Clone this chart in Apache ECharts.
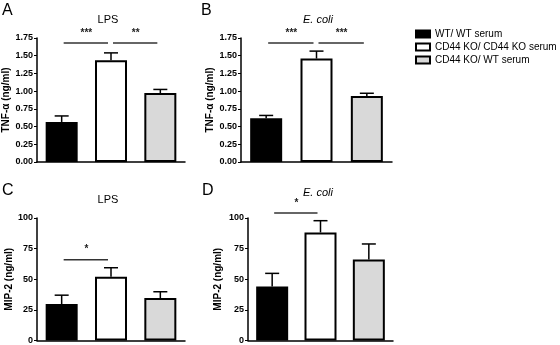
<!DOCTYPE html>
<html>
<head>
<meta charset="utf-8">
<script src="https://cdn.jsdelivr.net/npm/echarts@6/dist/echarts.min.js"></script>
<style>
  html, body { margin: 0; padding: 0; background: #fff; }
  #chart { width: 560px; height: 345px; }
</style>
</head>
<body>
<div id="chart"></div>
<script>
// groups (legend)
var groups = ['WT/ WT serum', 'CD44 KO/ CD44 KO serum', 'CD44 KO/ WT serum'];
var groupColors = ['#000000', '#ffffff', '#d9d9d9'];

// TNF-a, LPS (A)
var tnfLps = [0.565, 1.435, 0.974];
var tnfLpsErr = [0.085, 0.105, 0.05];
// TNF-a, E. coli (B)
var tnfEcoli = [0.617, 1.46, 0.93];
var tnfEcoliErr = [0.04, 0.105, 0.04];
// MIP-2, LPS (C)
var mipLps = [29.8, 52.1, 34.7];
var mipLpsErr = [7.2, 7.3, 5.1];
// MIP-2, E. coli (D)
var mipEcoli = [44.1, 88.2, 66.1];
var mipEcoliErr = [10.7, 9.6, 12.7];

// significance: [from, to, height, stars]
var sigA = [[0, 1, 1.68, '***'], [1, 2, 1.68, '**']];
var sigB = [[0, 1, 1.68, '***'], [1, 2, 1.68, '***']];
var sigC = [[0, 1, 66, '*']];
var sigD = [[0, 1, 104, '*']];

var tnfTicks = { max: 1.75, interval: 0.25, digits: 2 };
var mipTicks = { max: 100, interval: 25, digits: 0 };

var chart = echarts.init(document.getElementById('chart'));

var panels = [
    { vals: tnfLps, err: tnfLpsErr, sig: sigA, ticks: tnfTicks, name: 'TNF-\u03b1 (ng/ml)', grid: { left: 37, top: 38, width: 148, height: 124 }, gap: 25 },
    { vals: tnfEcoli, err: tnfEcoliErr, sig: sigB, ticks: tnfTicks, name: 'TNF-\u03b1 (ng/ml)', grid: { left: 241, top: 38, width: 151, height: 124 }, gap: 26 },
    { vals: mipLps, err: mipLpsErr, sig: sigC, ticks: mipTicks, name: 'MIP-2 (ng/ml)', grid: { left: 37, top: 218, width: 148, height: 124 }, gap: 22 },
    { vals: mipEcoli, err: mipEcoliErr, sig: sigD, ticks: mipTicks, name: 'MIP-2 (ng/ml)', grid: { left: 248, top: 218, width: 145, height: 124 }, gap: 25 }
];

var grids = [], xAxes = [], yAxes = [], series = [];

panels.forEach(function (p, k) {
    grids.push(p.grid);
    xAxes.push({
        type: 'category', gridIndex: k, data: groups,
        axisLine: { lineStyle: { color: '#000', width: 1.5 } },
        axisTick: { show: false }, axisLabel: { show: false }
    });
    yAxes.push({
        type: 'value', gridIndex: k, min: 0, max: p.ticks.max, interval: p.ticks.interval,
        name: p.name, nameLocation: 'middle', nameGap: p.gap, nameRotate: 90,
        nameTextStyle: { color: '#000', fontFamily: 'Liberation Sans', fontWeight: 'bold', fontSize: 10 },
        axisLine: { show: true, lineStyle: { color: '#000', width: 1.5 } },
        axisTick: { show: true, length: 3, lineStyle: { color: '#000', width: 1 } },
        axisLabel: {
            color: '#000', fontFamily: 'Liberation Sans', fontWeight: 'bold', fontSize: 9, margin: 4,
            formatter: (function (d) { return function (v) { return v.toFixed(d); }; })(p.ticks.digits)
        },
        splitLine: { show: false }
    });
    // one series per group so the legend picks them up
    groups.forEach(function (g, i) {
        var d = p.vals.map(function (v, j) { return j === i ? v : '-'; });
        series.push({
            name: g, type: 'bar', xAxisIndex: k, yAxisIndex: k,
            barWidth: 32, barGap: '-100%', data: d, silent: true,
            itemStyle: { color: groupColors[i], borderColor: '#000', borderWidth: 2 }
        });
    });
    // error bars (upper only)
    series.push({
        type: 'custom', xAxisIndex: k, yAxisIndex: k, clip: false, silent: true, z: 5,
        data: p.vals.map(function (v, i) { return [i, v, v + p.err[i]]; }),
        renderItem: function (params, api) {
            var lo = api.coord([api.value(0), api.value(1)]);
            var hi = api.coord([api.value(0), api.value(2)]);
            var st = { stroke: '#000', lineWidth: 1.5 };
            return { type: 'group', children: [
                { type: 'line', shape: { x1: lo[0], y1: lo[1], x2: hi[0], y2: hi[1] }, style: st },
                { type: 'line', shape: { x1: hi[0] - 7, y1: hi[1], x2: hi[0] + 7, y2: hi[1] }, style: st }
            ] };
        }
    });
    // significance bars
    var sig = p.sig;
    series.push({
        type: 'custom', xAxisIndex: k, yAxisIndex: k, clip: false, silent: true, z: 5,
        data: sig.map(function (s) { return [s[0], s[1], s[2]]; }),
        renderItem: function (params, api) {
            var s = sig[params.dataIndex];
            var a = api.coord([s[0], s[2]]);
            var b = api.coord([s[1], s[2]]);
            return { type: 'group', children: [
                { type: 'line', shape: { x1: a[0] + 2, y1: a[1], x2: b[0] - 3, y2: b[1] }, style: { stroke: '#333', lineWidth: 1.5 } },
                { type: 'text', x: (a[0] + b[0]) / 2, y: a[1] - 10,
                  style: { text: s[3], fill: '#222', font: 'bold 10px Liberation Sans', align: 'center', verticalAlign: 'middle' } }
            ] };
        }
    });
});

var titleFont = { color: '#000', fontFamily: 'Liberation Sans', fontWeight: 'normal', fontSize: 11 };
var letterFont = { color: '#000', fontFamily: 'Liberation Sans', fontWeight: 'normal', fontSize: 16 };

option = {
    backgroundColor: '#fff',
    animation: false,
    title: [
        { text: 'A', left: -3, top: -2, textStyle: letterFont },
        { text: 'B', left: 196, top: -2, textStyle: letterFont },
        { text: 'C', left: -3, top: 178, textStyle: letterFont },
        { text: 'D', left: 197, top: 178, textStyle: letterFont },
        { text: 'LPS', left: 103, top: 9, textAlign: 'center', textStyle: titleFont },
        { text: 'E. coli', left: 313, top: 9, textAlign: 'center', textStyle: Object.assign({}, titleFont, { fontStyle: 'italic' }) },
        { text: 'LPS', left: 103, top: 189, textAlign: 'center', textStyle: titleFont },
        { text: 'E. coli', left: 313, top: 182, textAlign: 'center', textStyle: Object.assign({}, titleFont, { fontStyle: 'italic' }) }
    ],
    legend: {
        data: groups, orient: 'vertical', left: 410, top: 24,
        icon: 'rect', itemWidth: 14, itemHeight: 7, itemGap: 3,
        textStyle: { color: '#000', fontFamily: 'Liberation Sans', fontSize: 10 },
        selectedMode: false
    },
    grid: grids,
    xAxis: xAxes,
    yAxis: yAxes,
    series: series
};

chart.setOption(option);
</script>
</body>
</html>
